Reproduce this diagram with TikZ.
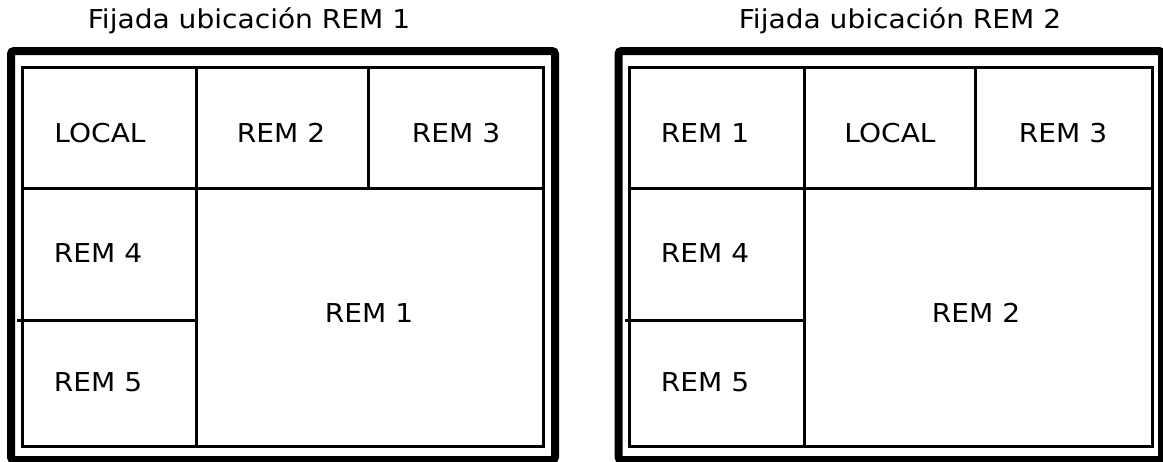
\documentclass[tikz,border=0pt]{standalone}
\usepackage{fontspec}
\setmainfont{DejaVu Sans}[FakeStretch=1.08]
\begin{document}
\begin{tikzpicture}[x=1pt, y=-1pt,
    frame/.style={line width=8pt, rounded corners=3pt},
    panel/.style={line width=3pt},
    cell/.style={font=\fontsize{26}{30}\selectfont},
    title/.style={font=\fontsize{26}{30}\selectfont, anchor=base}]
  \useasboundingbox (0,0) rectangle (1163,461);

  % Left layout, REM 1 pinned
  \node[title] (t1) at (249,28) {Fijada ubicación REM 1};
  \draw[frame] (11,51) rectangle (555,460);
  \draw[panel] (22,67) rectangle (543,446);
  \draw[panel] (22,188) -- (543,188);
  \draw[panel] (196,67) -- (196,446);
  \draw[panel] (368,67) -- (368,188);
  \draw[panel] (17,320) -- (196,320);

  \node[cell] (a1) at (100,133) {LOCAL};
  \node[cell] (a2) at (281,133) {REM 2};
  \node[cell] (a3) at (456,133) {REM 3};
  \node[cell] (a4) at (98,253) {REM 4};
  \node[cell] (a5) at (369,313) {REM 1};
  \node[cell] (a6) at (98,382) {REM 5};

  % Right layout, REM 2 pinned
  \node[title] (t2) at (900,28) {Fijada ubicación REM 2};
  \draw[frame] (618.5,51) rectangle (1162,460);
  \draw[panel] (629.5,67) rectangle (1152.5,446);
  \draw[panel] (629.5,188) -- (1152.5,188);
  \draw[panel] (804,67) -- (804,446);
  \draw[panel] (975.5,67) -- (975.5,188);
  \draw[panel] (625,320) -- (804,320);

  \node[cell] (b1) at (705,133) {REM 1};
  \node[cell] (b2) at (890,133) {LOCAL};
  \node[cell] (b3) at (1063,133) {REM 3};
  \node[cell] (b4) at (705,253) {REM 4};
  \node[cell] (b5) at (976,313) {REM 2};
  \node[cell] (b6) at (705,382) {REM 5};

\end{tikzpicture}
\end{document}
